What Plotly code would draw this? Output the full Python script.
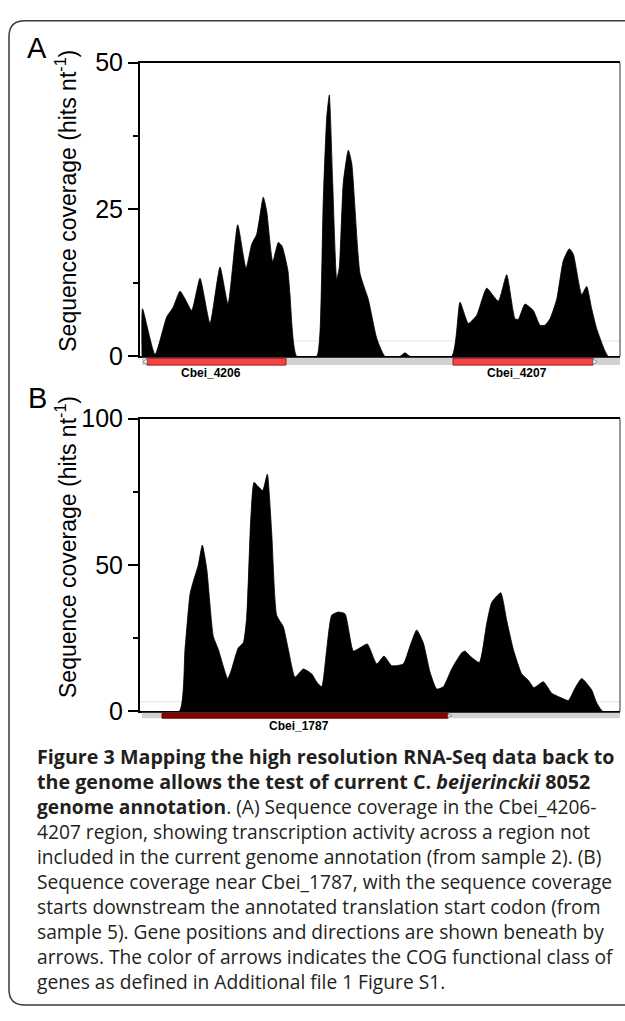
import plotly.graph_objects as go

W, H = 625, 1021

# ---------------- data ----------------
# Panel A: coverage profile (position index along the region, hits per nt)
posA = [2, 2.5, 15, 26.7, 33, 40, 45, 51.7, 60, 70, 80, 88, 97.7, 106, 111.7, 116.7,
        123.3, 126.7, 132.7, 138.3, 142, 145, 148, 150, 156.7, 176.7, 180, 183.3,
        186.7, 189.3, 192.7, 196.7, 199.3, 203.3, 208.3, 211.7, 220, 228.3, 236.7,
        245, 260, 265, 270, 311.7, 320, 328.3, 336.7, 346.7, 358.3, 366.7, 375,
        378.3, 385, 393.3, 400, 405, 410, 416.7, 423.3, 429.3, 433.3, 441.7, 446.7,
        451.7, 456.7, 465, 468.3, 480]
covA = [0, 8.1, 0.3, 6.7, 8.3, 11.1, 9.8, 7.8, 13.3, 5.6, 15.2, 8.9, 22.4, 15.0, 19.1, 20.8,
        27.1, 24.7, 16.1, 19.4, 18.8, 17.0, 14.5, 10.5, 0, 0, 4.2, 26.8,
        40.6, 44.5, 29.6, 13.1, 15.2, 29.6, 35.1, 32.9, 14.1, 9.7, 3.1,
        0, 0, 0.6, 0, 0, 9.2, 5.6, 7.0, 11.6, 9.4, 13.9, 6.4,
        6.3, 8.9, 7.8, 5.3, 5.3, 6.4, 9.7, 16.3, 18.3, 17.4, 10.5, 11.9,
        8.1, 4.7, 0.9, 0, 0]

# Panel B
posB = [0, 39.3, 45, 50, 53.3, 58.3, 62.3, 66.7, 73.3, 78.3, 87.7, 91.7, 98.3, 103.3,
        106.7, 110.7, 114, 118.3, 122.7, 127.3, 131.7, 136.7, 143.3, 148.3, 155,
        163.3, 171.7, 176.7, 181.7, 186.7, 191.7, 198.3, 205, 213.3, 220, 227.3,
        236.7, 244, 251.7, 263.3, 270, 276.7, 283.3, 290, 296.7, 303.3, 311.7,
        321.7, 325, 330, 339.3, 346.7, 351.7, 360.7, 366.7, 373.3, 381.7, 388.3,
        394, 403.3, 411.7, 420, 428.3, 435, 441.7, 451.7, 456.7, 462.7, 480]
covB = [0, 0, 21.2, 40, 44.4, 50, 56.8, 48.8, 25.6, 21.2, 11.2, 14.5, 21.7, 23.4,
        32.2, 65.4, 78.2, 76.8, 75.4, 81, 61, 32.8, 28.9, 21.2, 11.7,
        14.5, 12.8, 10, 8.4, 21.2, 32.8, 33.9, 33.3, 20.6, 21.7, 23,
        16.2, 18.9, 15.6, 16.2, 22.3, 27.8, 23.4, 13.4, 7.6, 8.4, 14.5,
        20, 20.6, 18.9, 16.7, 30, 37.2, 40.5, 31.1, 21.2, 12.8, 10.6,
        8.1, 10.1, 6.2, 4.8, 3.7, 7.9, 11.2, 7.3, 2.9, 0, 0]

genesA_name = ["Cbei_4206", "Cbei_4207"]
genesA_start = [7, 313]
genesA_end = [146, 453]
genesA_strand = ["-", "+"]

genesB_name = ["Cbei_1787"]
genesB_start = [22]
genesB_end = [308]
genesB_strand = ["+"]

thresholdA = 2.6
thresholdB = 3.3
ticksA = [0, 25, 50]
minorA = [12.5, 37.5]
ticksB = [0, 50, 100]
minorB = [25, 75]
region_len = 480

ytitle = "Sequence coverage (hits nt<sup>-1</sup>)"
caption = [
    "<b>Figure 3 Mapping the high resolution RNA-Seq data back to</b>",
    "<b>the genome allows the test of current C. <i>beijerinckii</i> 8052</b>",
    "<b>genome annotation</b>. (A) Sequence coverage in the Cbei_4206-",
    "4207 region, showing transcription activity across a region not",
    "included in the current genome annotation (from sample 2). (B)",
    "Sequence coverage near Cbei_1787, with the sequence coverage",
    "starts downstream the annotated translation start codon (from",
    "sample 5). Gene positions and directions are shown beneath by",
    "arrows. The color of arrows indicates the COG functional class of",
    "genes as defined in Additional file 1 Figure S1.",
]
caption_size = [19.7, 19.7, 19.2, 19.2, 19.2, 19.2, 19.2, 19.2, 19.2, 19.2]

# ---------------- helpers ----------------
def px(x):
    return x / W

def py(y):
    return 1 - y / H

AX = "Liberation Sans, Arial, sans-serif"

fig = go.Figure()
fig.add_trace(go.Scatter(x=posA, y=covA, mode="lines", fill="tozeroy",
                         fillcolor="black",
                         line=dict(color="black", width=0.8, shape="spline", smoothing=0.5),
                         xaxis="x", yaxis="y", hoverinfo="skip"))
fig.add_trace(go.Scatter(x=posB, y=covB, mode="lines", fill="tozeroy",
                         fillcolor="black",
                         line=dict(color="black", width=0.8, shape="spline", smoothing=0.5),
                         xaxis="x2", yaxis="y2", hoverinfo="skip"))

panels = [
    dict(xa="x", ya="y", top=50, bot=352, track=(353, 361), lab_y=369,
         names=genesA_name, st=genesA_start, en=genesA_end, sd=genesA_strand,
         color="#f24646", edge="#a01818", thr=thresholdA),
    dict(xa="x2", ya="y2", top=416, bot=717, track=(718, 724), lab_y=732,
         names=genesB_name, st=genesB_start, en=genesB_end, sd=genesB_strand,
         color="#8e0000", edge="#600000", thr=thresholdB),
]

def yaxis_cfg(top, bot, rng, tv, mv):
    return dict(domain=[py(bot), py(top)], range=rng, tickvals=tv, ticks="outside",
                ticklen=10, tickwidth=1.5, tickcolor="black", showline=True,
                linewidth=2, linecolor="black", showgrid=False, zeroline=False,
                tickfont=dict(family=AX, size=25, color="black"),
                minor=dict(tickvals=mv, ticks="outside", ticklen=5, tickwidth=1.5,
                           tickcolor="black", showgrid=False),
                fixedrange=True)

def xaxis_cfg(anchor):
    return dict(domain=[px(140), px(620)], range=[0, region_len], showticklabels=False,
                ticks="", showgrid=False, zeroline=False, showline=True, mirror=True,
                linewidth=2, linecolor="black", anchor=anchor, fixedrange=True)

shapes = []
annotations = []
for p in panels:
    xr = p["xa"]
    t0, t1 = p["track"]
    shapes.append(dict(type="line", xref="paper", yref="paper", x0=px(620), x1=px(620),
                       y0=py(p["bot"]), y1=py(p["top"]), line=dict(color="#333", width=1)))
    shapes.append(dict(type="line", xref=xr, yref=p["ya"], x0=0, x1=region_len,
                       y0=p["thr"], y1=p["thr"], line=dict(color="#e4e4e4", width=1),
                       layer="below"))
    shapes.append(dict(type="rect", xref=xr, yref="paper", x0=2, x1=region_len,
                       y0=py(t1), y1=py(t0 + 0.5), fillcolor="#d2d2d2", line=dict(width=0)))
    for name, s, e, d in zip(p["names"], p["st"], p["en"], p["sd"]):
        shapes.append(dict(type="rect", xref=xr, yref="paper", x0=s, x1=e,
                           y0=py(t1), y1=py(t0 + 1), fillcolor=p["color"],
                           line=dict(color=p["edge"], width=1)))
        ym = (t0 + t1) / 2 + 0.5
        if d == "+":
            path = f"M {e},{py(t0 + 1.5)} L {e + 4},{py(ym)} L {e},{py(t1 - 0.5)} Z"
        else:
            path = f"M {s},{py(t0 + 1.5)} L {s - 4},{py(ym)} L {s},{py(t1 - 0.5)} Z"
        shapes.append(dict(type="path", xref=xr, yref="paper", path=path,
                           fillcolor="white", line=dict(color="#777", width=0.8)))
        annotations.append(dict(text=f"<b>{name}</b>", xref=xr, yref="paper",
                                x=(s + e) / 2 - 6, y=py(p["lab_y"]), showarrow=False,
                                xanchor="center", yanchor="middle",
                                font=dict(family=AX, size=12, color="black")))

for letter, ly, tc in [("A", 35, 192), ("B", 395, 548)]:
    annotations.append(dict(text=letter, xref="paper", yref="paper", x=px(37), y=py(ly),
                            showarrow=False, xanchor="center", yanchor="middle",
                            font=dict(family=AX, size=29, color="black")))
    annotations.append(dict(text=ytitle, xref="paper", yref="paper", x=px(66), y=py(tc),
                            showarrow=False, textangle=-90, xanchor="center",
                            yanchor="middle", font=dict(family=AX, size=23, color="black")))

CAP = "'Open Sans', sans-serif"
for i, (line, fs) in enumerate(zip(caption, caption_size)):
    annotations.append(dict(text=line, xref="paper", yref="paper", x=px(35),
                            y=py(763 + i * 25.8), showarrow=False, xanchor="left",
                            yanchor="middle", align="left",
                            font=dict(family=CAP, size=fs, color="#231f20")))

r = 16
frame = (f"M {px(640)},{py(7)} L {px(9 + r)},{py(7)} "
         f"Q {px(9)},{py(7)} {px(9)},{py(7 + r)} "
         f"L {px(9)},{py(1019 - r)} Q {px(9)},{py(1019)} {px(9 + r)},{py(1019)} "
         f"L {px(640)},{py(1019)}")
shapes.append(dict(type="path", xref="paper", yref="paper", path=frame,
                   line=dict(color="#3a3a3a", width=1.5)))

fig.update_layout(
    width=W, height=H, margin=dict(l=0, r=0, t=0, b=0),
    paper_bgcolor="white", plot_bgcolor="white", showlegend=False,
    xaxis=xaxis_cfg("y"), xaxis2=xaxis_cfg("y2"),
    yaxis=yaxis_cfg(50, 352, [0, 50], ticksA, minorA),
    yaxis2=yaxis_cfg(416, 717, [0, 100], ticksB, minorB),
    shapes=shapes, annotations=annotations,
)
fig.write_html("out.html", config={"displayModeBar": False},
               post_script="document.body.style.margin='0';document.body.style.overflow='hidden';")
